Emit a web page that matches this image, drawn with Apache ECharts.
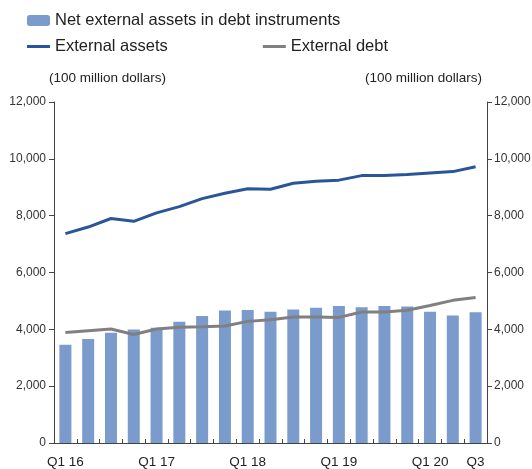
<!DOCTYPE html>
<html><head><meta charset="utf-8">
<script src="https://cdn.jsdelivr.net/npm/echarts@6/dist/echarts.min.js"></script>
<style>html,body{margin:0;padding:0;background:#fff}#c{width:532px;height:469px}</style>
</head><body><div id="c"></div>
<script>
const categories = ["Q1 16","Q2 16","Q3 16","Q4 16","Q1 17","Q2 17","Q3 17","Q4 17","Q1 18","Q2 18","Q3 18","Q4 18","Q1 19","Q2 19","Q3 19","Q4 19","Q1 20","Q2 20","Q3 20"];
const tickLabels = ["Q1 16","","","","Q1 17","","","","Q1 18","","","","Q1 19","","","","Q1 20","","Q3"];
const netAssets = [3460,3660,3880,3990,4060,4270,4470,4660,4680,4620,4700,4760,4820,4780,4820,4800,4620,4490,4600];
const extAssets = [7370,7600,7900,7800,8100,8320,8600,8790,8950,8930,9140,9210,9250,9410,9410,9450,9500,9550,9720];
const extDebt = [3890,3950,4010,3820,4010,4070,4090,4120,4280,4340,4430,4430,4420,4610,4610,4670,4840,5020,5120];
const seriesNames = ["Net external assets in debt instruments","External assets","External debt"];
const unitLabel = "(100 million dollars)";

const chart = echarts.init(document.getElementById('c'));
const sans = "'Liberation Sans',Arial,Helvetica,sans-serif";
const fmt = v => v.toLocaleString('en-US');
const yAxisBase = {
  type:'value', min:0, max:12000, interval:2000,
  axisLine:{show:true, lineStyle:{color:'#444', width:1}},
  axisTick:{show:true, inside:false, length:5, lineStyle:{color:'#444'}},
  splitLine:{show:false}
};
chart.setOption({
  animation:false,
  legend:[
    {left:22, top:7, itemWidth:23, itemHeight:11, itemGap:9, data:[seriesNames[0]],
     textStyle:{fontFamily:sans, fontSize:16.5, color:'#222'}},
    {left:22, top:33, itemWidth:23, itemHeight:3, itemGap:95, icon:'rect',
     data:[seriesNames[1], seriesNames[2]],
     textStyle:{fontFamily:sans, fontSize:16.5, color:'#222'}}
  ],
  graphic:[
    {type:'text', left:49, top:71, style:{text:unitLabel, font:"13.5px "+sans, fill:'#222'}},
    {type:'text', left:365, top:71, style:{text:unitLabel, font:"13.5px "+sans, fill:'#222'}}
  ],
  grid:{left:54, right:45, top:102, bottom:26, outerBoundsMode:'none', containLabel:false},
  xAxis:{type:'category', data:categories, boundaryGap:true,
    axisLine:{lineStyle:{color:'#444'}},
    axisTick:{show:true, inside:true, length:4, interval:0, lineStyle:{color:'#444'}},
    axisLabel:{interval:0, formatter:(v,i)=>tickLabels[i], color:'#222', fontFamily:sans, fontSize:13.5, margin:12}},
  yAxis:[
    Object.assign({position:'left', axisLabel:{formatter:fmt, color:'#333', fontFamily:sans, fontSize:12, margin:8}}, yAxisBase),
    Object.assign({position:'right', axisLabel:{formatter:fmt, color:'#333', fontFamily:sans, fontSize:12, margin:7}}, yAxisBase)
  ],
  series:[
    {name:seriesNames[0], type:'bar', data:netAssets, barWidth:12, itemStyle:{color:'#7a9bcb'}},
    {name:seriesNames[1], type:'line', data:extAssets, symbol:'none', lineStyle:{color:'#2a5699', width:3}, itemStyle:{color:'#2a5699'}},
    {name:seriesNames[2], type:'line', data:extDebt, symbol:'none', lineStyle:{color:'#808080', width:3}, itemStyle:{color:'#808080'}}
  ]
});
</script></body></html>
